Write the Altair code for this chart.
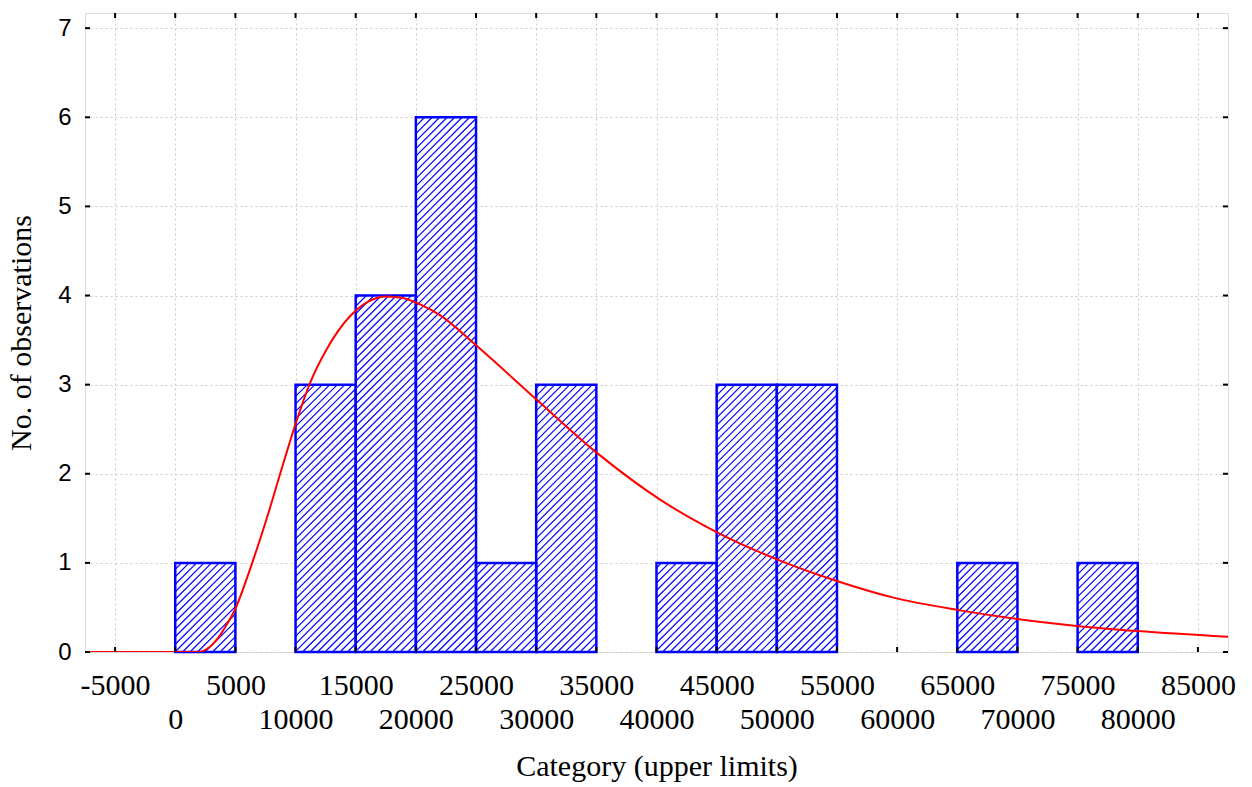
import math
import altair as alt
import pandas as pd

# ---------------- data ----------------
upper_limits = [5000, 10000, 15000, 20000, 25000, 30000, 35000, 40000,
                45000, 50000, 55000, 60000, 65000, 70000, 75000, 80000]
counts = [1, 0, 3, 4, 6, 1, 3, 0, 1, 3, 3, 0, 0, 1, 0, 1]
bin_width = 5000

curve_x = [-7500, 0, 2000, 2800, 3450, 4200, 4980, 6220, 7610, 8990, 10100, 11210,
           12600, 14540, 16000, 17600, 19000, 20350, 22000, 24930, 30050,
           35000, 40300, 45070, 50000, 54930, 59700, 65100, 70000, 75130,
           80000, 87500]
curve_y = [0, 0, 0, 0.05, 0.14, 0.29, 0.48, 0.93, 1.50, 2.12, 2.60, 3.02,
           3.40, 3.77, 3.93, 3.99, 3.97, 3.90, 3.78, 3.45, 2.83,
           2.24, 1.71, 1.34, 1.04, 0.80, 0.61, 0.47, 0.37, 0.29,
           0.235, 0.17]

x_ticks = list(range(-5000, 85001, 5000))
y_ticks = [0, 1, 2, 3, 4, 5, 6, 7]
x_domain = [-7500, 87500]
y_domain = [0, 7.17]

x_title = "Category (upper limits)"
y_title = "No. of observations"

# ---------------- layout ----------------
W, H = 1143, 639
BLUE = "#0000ff"
RED = "#ff0000"

bars = pd.DataFrame({
    "lo": [u - bin_width for u in upper_limits],
    "hi": upper_limits,
    "n": counts,
})
bars = bars[bars["n"] > 0].reset_index(drop=True)

# hatch lines (45 degrees on screen), derived from the bars through the scale factors
sx = W / (x_domain[1] - x_domain[0])
sy = H / (y_domain[1] - y_domain[0])
d = 7.5
hatch = []
for _, r in bars.iterrows():
    a = (r.lo - x_domain[0]) * sx
    b = (r.hi - x_domain[0]) * sx
    hb = r.n * sy
    k = math.floor((a - hb) / d) * d
    while k <= b:
        y0 = max(0.0, a - k)
        y1 = min(hb, b - k)
        if y1 - y0 > 0.8:
            hatch.append({
                "hx": (y0 + k) / sx + x_domain[0],
                "hx2": (y1 + k) / sx + x_domain[0],
                "hy": y0 / sy,
                "hy2": y1 / sy,
            })
        k += d
hatch = pd.DataFrame(hatch)

curve = pd.DataFrame({"cx": curve_x, "cy": curve_y})
xt = pd.DataFrame({"v": x_ticks})
yt = pd.DataFrame({"v": y_ticks})

xscale = alt.Scale(domain=x_domain, nice=False, zero=False)
yscale = alt.Scale(domain=y_domain, nice=False, zero=False)

xaxis = alt.Axis(
    values=x_ticks, title=x_title, grid=True, gridDash=[2, 3],
    gridColor="#c8c8c8", gridWidth=1, ticks=False, domain=False,
    labelExpr="datum.value + ''",
    labelFont="Liberation Serif", labelFontSize=30, labelColor="black",
    labelOverlap=False, labelFlush=False,
    labelPadding={"condition": {"test": "datum.value % 10000 != 0", "value": 18}, "value": 52},
    titleFont="Liberation Serif", titleFontSize=30, titleFontWeight="normal",
    titleColor="black", titleY=99, titleBaseline="top",
)
yaxis = alt.Axis(
    values=y_ticks, title=y_title, grid=True, gridDash=[2, 3],
    gridColor="#c8c8c8", gridWidth=1, ticks=False, domain=False,
    labelExpr="datum.value + ''",
    labelFont="Liberation Sans", labelFontSize=24, labelColor="black",
    labelPadding=14, labelOverlap=False, labelFlush=False,
    titleFont="Liberation Serif", titleFontSize=30, titleFontWeight="normal",
    titleColor="black", titleAngle=270, titleX=-55, titleY=H / 2,
    titleBaseline="alphabetic", titleAlign="center",
)

def X(f):
    return alt.X(f, type="quantitative", scale=xscale, axis=xaxis)

def Y(f):
    return alt.Y(f, type="quantitative", scale=yscale, axis=yaxis)

bar_fill = alt.Chart(bars).mark_rect(fill="white", stroke=None).encode(
    x=X("lo"), x2="hi", y=Y("n"), y2=alt.datum(0)
)
hatch_layer = alt.Chart(hatch).mark_rule(color=BLUE, strokeWidth=1.2).encode(
    x=X("hx"), x2="hx2", y=Y("hy"), y2="hy2"
)
bar_edge = alt.Chart(bars).mark_rect(fill=None, stroke=BLUE, strokeWidth=2.5).encode(
    x=X("lo"), x2="hi", y=Y("n"), y2=alt.datum(0)
)
curve_layer = alt.Chart(curve).mark_line(color=RED, strokeWidth=2, interpolate="monotone", clip=True).encode(
    x=X("cx"), y=Y("cy")
)
tick_left = alt.Chart(yt).mark_rule(color="black", strokeWidth=2).encode(
    y=Y("v"), x=alt.value(0), x2=alt.value(5)
)
tick_right = alt.Chart(yt).mark_rule(color="black", strokeWidth=2).encode(
    y=Y("v"), x=alt.value(W - 5), x2=alt.value(W)
)
tick_bottom = alt.Chart(xt).mark_rule(color="black", strokeWidth=2).encode(
    x=X("v"), y=alt.value(H - 5), y2=alt.value(H)
)
tick_top = alt.Chart(xt).mark_rule(color="black", strokeWidth=2).encode(
    x=X("v"), y=alt.value(0), y2=alt.value(5)
)

chart = alt.layer(
    bar_fill, hatch_layer, bar_edge, curve_layer,
    tick_left, tick_right, tick_bottom, tick_top,
).properties(
    width=W, height=H,
    autosize=alt.AutoSizeParams(type="none"),
    padding={"left": 85, "top": 13, "right": 24, "bottom": 135},
).configure_view(
    stroke="black", strokeWidth=2
).configure(background="white")

chart.save("out.html", embed_options={"renderer": "svg", "actions": False})
